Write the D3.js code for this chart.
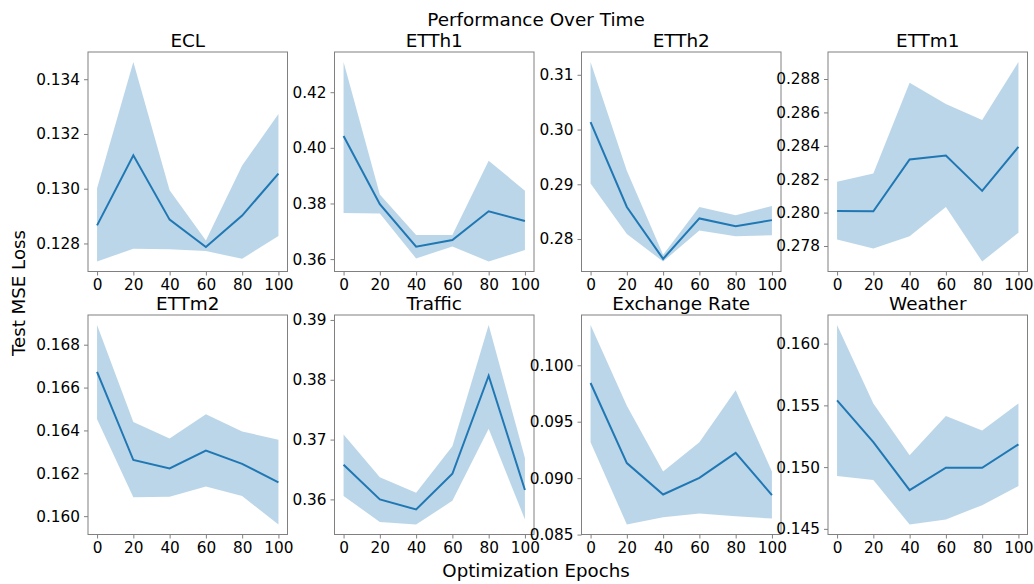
<!DOCTYPE html>
<html>
<head>
<meta charset="utf-8">
<script src="https://cdn.jsdelivr.net/npm/d3@7"></script>
<style>
  body { margin: 0; background: #fff; }
  svg text { font-family: "DejaVu Sans", sans-serif; fill: #000; }
</style>
</head>
<body>
<div id="chart"></div>
<script>
// Epochs on the x axis
const epochs = [0, 20, 40, 60, 80, 100];

// Panel names, in grid order
const datasets = ["ECL", "ETTh1", "ETTh2", "ETTm1", "ETTm2", "Traffic", "Exchange Rate", "Weather"];

// Mean test MSE, and the band around it
const eclMean = [0.12866, 0.13122, 0.12887, 0.12787, 0.12902, 0.13055];
const eclLow  = [0.12734, 0.12781, 0.12779, 0.12772, 0.12744, 0.12827];
const eclHigh = [0.13002, 0.13463, 0.12994, 0.12811, 0.13085, 0.13273];

const etth1Mean = [0.40424, 0.37975, 0.36446, 0.36688, 0.37721, 0.37370];
const etth1Low  = [0.37659, 0.37638, 0.36023, 0.36457, 0.35913, 0.36326];
const etth1High = [0.43087, 0.38326, 0.36870, 0.36870, 0.39540, 0.38457];

const etth2Mean = [0.30135, 0.28585, 0.27638, 0.28376, 0.28234, 0.28345];
const etth2Low  = [0.29012, 0.28092, 0.27589, 0.28155, 0.28050, 0.28068];
const etth2High = [0.31234, 0.29245, 0.27712, 0.28585, 0.28432, 0.28603];

const ettm1Mean = [0.28010, 0.28008, 0.28318, 0.28342, 0.28130, 0.28394];
const ettm1Low  = [0.27839, 0.27785, 0.27858, 0.28034, 0.27707, 0.27880];
const ettm1High = [0.28184, 0.28234, 0.28778, 0.28650, 0.28554, 0.28902];

const ettm2Mean = [0.16673, 0.16262, 0.16223, 0.16306, 0.16244, 0.16158];
const ettm2Low  = [0.16452, 0.16088, 0.16091, 0.16138, 0.16094, 0.15961];
const ettm2High = [0.16892, 0.16439, 0.16362, 0.16475, 0.16395, 0.16357];

const trafficMean = [0.36580, 0.36000, 0.35832, 0.36429, 0.38067, 0.36156];
const trafficLow  = [0.36055, 0.35624, 0.35580, 0.35976, 0.37180, 0.35664];
const trafficHigh = [0.37084, 0.36370, 0.36111, 0.36887, 0.38916, 0.36692];

const exchangeMean = [0.09843, 0.09133, 0.08855, 0.09003, 0.09224, 0.08850];
const exchangeLow  = [0.09319, 0.08589, 0.08653, 0.08686, 0.08662, 0.08642];
const exchangeHigh = [0.10357, 0.09642, 0.09059, 0.09319, 0.09778, 0.09059];

const weatherMean = [0.15541, 0.15203, 0.14814, 0.14995, 0.14995, 0.15184];
const weatherLow  = [0.14927, 0.14895, 0.14535, 0.14576, 0.14692, 0.14846];
const weatherHigh = [0.16151, 0.15516, 0.15095, 0.15413, 0.15297, 0.15516];

// y tick values per panel
const eclTicks = [0.128, 0.130, 0.132, 0.134];
const etth1Ticks = [0.36, 0.38, 0.40, 0.42];
const etth2Ticks = [0.28, 0.29, 0.30, 0.31];
const ettm1Ticks = [0.278, 0.280, 0.282, 0.284, 0.286, 0.288];
const ettm2Ticks = [0.160, 0.162, 0.164, 0.166, 0.168];
const trafficTicks = [0.36, 0.37, 0.38, 0.39];
const exchangeTicks = [0.085, 0.090, 0.095, 0.100];
const weatherTicks = [0.145, 0.150, 0.155, 0.160];
const xTicks = [0, 20, 40, 60, 80, 100];

const panels = [
    { mean: eclMean, low: eclLow, high: eclHigh, ticks: eclTicks, fmt: ".3f" },
    { mean: etth1Mean, low: etth1Low, high: etth1High, ticks: etth1Ticks, fmt: ".2f" },
    { mean: etth2Mean, low: etth2Low, high: etth2High, ticks: etth2Ticks, fmt: ".2f" },
    { mean: ettm1Mean, low: ettm1Low, high: ettm1High, ticks: ettm1Ticks, fmt: ".3f" },
    { mean: ettm2Mean, low: ettm2Low, high: ettm2High, ticks: ettm2Ticks, fmt: ".3f" },
    { mean: trafficMean, low: trafficLow, high: trafficHigh, ticks: trafficTicks, fmt: ".2f" },
    { mean: exchangeMean, low: exchangeLow, high: exchangeHigh, ticks: exchangeTicks, fmt: ".3f" },
    { mean: weatherMean, low: weatherLow, high: weatherHigh, ticks: weatherTicks, fmt: ".3f" }
];

// Layout
const W = 1034, H = 584;
const colLeft = [88, 334.5, 581.5, 828];
const rowTop = [52, 315];
const pw = 199.5, ph = 219.5;
const blue = "#1f77b4";
const spine = "#808080";

const svg = d3.select("#chart").append("svg")
    .attr("width", W)
    .attr("height", H);

svg.append("text")
    .attr("x", 536).attr("y", 26)
    .attr("text-anchor", "middle")
    .style("font-size", "18.4px")
    .text("Performance Over Time");

svg.append("text")
    .attr("x", 536).attr("y", 577)
    .attr("text-anchor", "middle")
    .style("font-size", "18.2px")
    .text("Optimization Epochs");

svg.append("text")
    .attr("transform", "translate(25,293) rotate(-90)")
    .attr("text-anchor", "middle")
    .style("font-size", "18.2px")
    .text("Test MSE Loss");

panels.forEach((p, i) => {
    const left = colLeft[i % 4], top = rowTop[Math.floor(i / 4)];
    const g = svg.append("g").attr("transform", `translate(${left},${top})`);

    // matplotlib style 5% margins
    const x = d3.scaleLinear().domain([-5, 105]).range([0, pw]);
    const lo = d3.min(p.low), hi = d3.max(p.high);
    const pad = (hi - lo) * 0.05;
    const y = d3.scaleLinear().domain([lo - pad, hi + pad]).range([ph, 0]);

    const rows = epochs.map((e, k) => ({ e: e, m: p.mean[k], l: p.low[k], h: p.high[k] }));

    g.append("path")
        .datum(rows)
        .attr("fill", blue)
        .attr("fill-opacity", 0.3)
        .attr("d", d3.area().x(d => x(d.e)).y0(d => y(d.l)).y1(d => y(d.h)));

    g.append("path")
        .datum(rows)
        .attr("fill", "none")
        .attr("stroke", blue)
        .attr("stroke-width", 2)
        .attr("d", d3.line().x(d => x(d.e)).y(d => y(d.m)));

    const xAxis = g.append("g")
        .attr("transform", `translate(0,${ph})`)
        .call(d3.axisBottom(x).tickValues(xTicks).tickSize(4).tickPadding(4).tickFormat(d3.format("d")));
    const yAxis = g.append("g")
        .call(d3.axisLeft(y).tickValues(p.ticks).tickSize(4).tickPadding(4).tickFormat(d3.format(p.fmt)));

    [xAxis, yAxis].forEach(a => {
        a.select(".domain").remove();
        a.selectAll(".tick line").attr("stroke", spine);
        a.selectAll(".tick text").style("font-size", "15.3px").attr("fill", "#000");
    });

    g.append("rect")
        .attr("width", pw).attr("height", ph)
        .attr("fill", "none")
        .attr("stroke", spine)
        .attr("stroke-width", 1);

    g.append("text")
        .attr("x", pw / 2).attr("y", -5)
        .attr("text-anchor", "middle")
        .style("font-size", "18.4px")
        .text(datasets[i]);
});
</script>
</body>
</html>
